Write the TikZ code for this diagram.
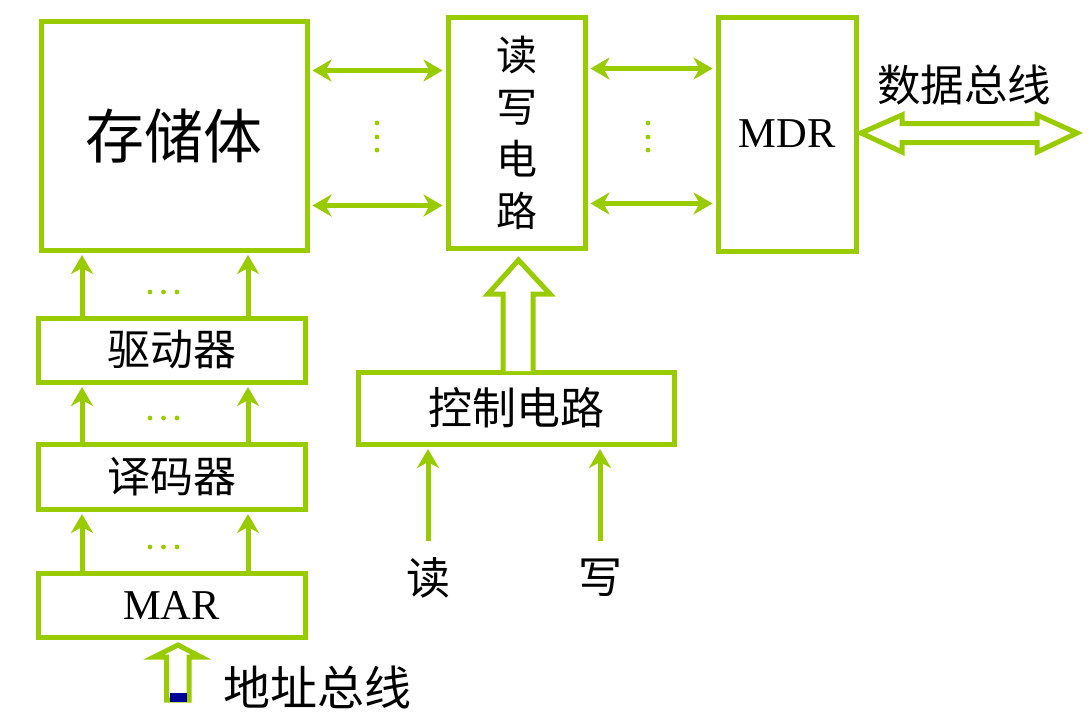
\documentclass[tikz,border=0pt]{standalone}
\usepackage{fontspec}
\setmainfont{Liberation Serif}
\newfontfamily\cjk{Noto Sans CJK SC}
\usetikzlibrary{arrows.meta}
\definecolor{gr}{HTML}{99CC00}
\definecolor{db}{HTML}{000099}
\tikzset{
  blk/.style={draw=gr, line width=5pt, rectangle, inner sep=0pt, fill=white},
  arr/.style={draw=gr, line width=5pt, -{Stealth[length=19pt,width=22pt,inset=6pt]}, shorten >=2.5pt},
  darr/.style={draw=gr, line width=5pt, {Stealth[length=19pt,width=22pt,inset=6pt]}-{Stealth[length=19pt,width=22pt,inset=6pt]}, shorten >=3pt, shorten <=3pt},
  hol/.style={draw=gr, line width=5pt, fill=white, line join=miter},
  dot/.style={fill=gr, draw=none},
  lbl/.style={inner sep=0pt, font=\cjk\fontsize{44}{50}\selectfont},
}
\begin{document}
\begin{tikzpicture}[x=1pt,y=-1pt]
\useasboundingbox (0,0) rectangle (1092,716);
% boxes
\node[blk, minimum width=266pt, minimum height=229pt, font=\cjk\fontsize{59}{60}\selectfont] (mem) at (174,135.5) {存储体};
\node[blk, minimum width=137pt, minimum height=231pt, align=center, font=\cjk\fontsize{41}{52}\selectfont] (rw) at (516.5,132.5) {读\\写\\电\\路};
\node[blk, minimum width=138pt, minimum height=234pt, font=\fontsize{42.5}{48}\selectfont] (mdr) at (787,134) {MDR};
\node[blk, minimum width=267pt, minimum height=64pt, font=\cjk\fontsize{43}{48}\selectfont] (drv) at (171.5,350) {驱动器};
\node[blk, minimum width=267pt, minimum height=65pt, font=\cjk\fontsize{43}{48}\selectfont] (dec) at (171.5,476.5) {译码器};
\node[blk, minimum width=267pt, minimum height=64pt, font=\fontsize{42.5}{48}\selectfont] (mar) at (171.5,605) {MAR};
\node[blk, minimum width=316pt, minimum height=72pt, font=\cjk\fontsize{44}{48}\selectfont] (ctl) at (516,408) {控制电路};
% left column arrows
\foreach \s/\t in {drv/mem, dec/drv, mar/dec}{
  \draw[arr] ([xshift=46.5pt]\s.north west) -- ([xshift=46.5pt]\s.north west |- \t.south);
  \draw[arr] ([xshift=212.5pt]\s.north west) -- ([xshift=212.5pt]\s.north west |- \t.south);
}
\foreach \y in {292,418,547}{
  \foreach \x in {150,163.5,177}{\fill[dot] (\x,\y) circle (2.4);}
}
% memory <-> rw
\draw[darr] ([yshift=-52pt]mem.north east) -- ([yshift=-52pt]mem.north east -| rw.west);
\draw[darr] ([yshift=-187pt]mem.north east) -- ([yshift=-187pt]mem.north east -| rw.west);
\draw[darr] ([yshift=-54pt]rw.north east) -- ([yshift=-54pt]rw.north east -| mdr.west);
\draw[darr] ([yshift=-189pt]rw.north east) -- ([yshift=-189pt]rw.north east -| mdr.west);
\foreach \y in {123,137,150}{
  \fill[dot] (377,\y) circle (2.4);
  \fill[dot] (648,\y) circle (2.4);
}
% control hollow arrow
\draw[hol] (503,371) -- (503,294) -- (488,294) -- (518.5,260) -- (550,294) -- (533,294) -- (533,371);
% read / write inputs
\coordinate (rdin) at (428,541);
\coordinate (wrin) at (600,541);
\draw[arr] (rdin) -- (rdin |- ctl.south);
\draw[arr] (wrin) -- (wrin |- ctl.south);
\node[lbl] (rd) at (428,578) {读};
\node[lbl] (wr) at (600,578) {写};
% address bus
\draw[hol] (166.5,700) -- (166.5,657) -- (154,657) -- (178,645) -- (201,657) -- (189,657) -- (189,700) -- cycle;
\fill[db] (170,693) rectangle (187,702);
\node[lbl, font=\cjk\fontsize{47}{50}\selectfont] (ab) at (317,688) {地址总线};
% data bus
\draw[hol] (861,133) -- (902,115) -- (902,123.5) -- (1037,123.5) -- (1037,115) -- (1077,133) -- (1037,152) -- (1037,142.5) -- (902,142.5) -- (902,152) -- cycle;
\node[lbl, font=\cjk\fontsize{43.5}{48}\selectfont] (dbl) at (964,85) {数据总线};
\end{tikzpicture}
\end{document}
